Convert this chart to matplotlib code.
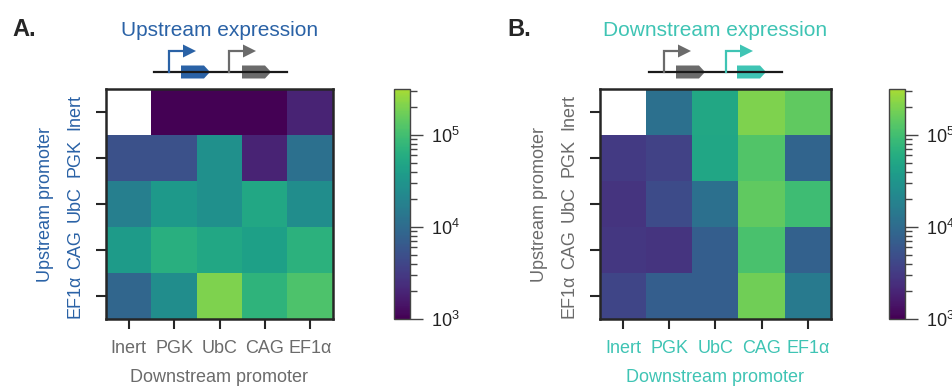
import numpy as np
import matplotlib
matplotlib.use("Agg")
import matplotlib.pyplot as plt
from matplotlib.colors import LogNorm, ListedColormap
from matplotlib.patches import Polygon
from matplotlib.lines import Line2D

plt.rcParams['font.family'] = ['Liberation Sans', 'DejaVu Sans']

promoters = ["Inert", "PGK", "UbC", "CAG", "EF1α"]

# rows: upstream promoter (Inert..EF1α), cols: downstream promoter
upstream_expr = np.array([
    [np.nan, 900, 900, 900, 1940],
    [5200, 5200, 27400, 1940, 11500],
    [17200, 35800, 27400, 52700, 25500],
    [38000, 64600, 52700, 43500, 69000],
    [8900, 25500, 205000, 73700, 117000],
])
downstream_expr = np.array([
    [np.nan, 11500, 52700, 205000, 150000],
    [3080, 3760, 49700, 125000, 8300],
    [2700, 4580, 11500, 150000, 96000],
    [2880, 2700, 7300, 110000, 7800],
    [4000, 7300, 7300, 175000, 15100],
])
titles = ["Upstream expression", "Downstream expression"]
panel_labels = ["A.", "B."]

W, H = 953, 387
fig = plt.figure(figsize=(W / 100, H / 100), dpi=100)

BLUE = "#2a62a6"
GREY = "#6b6b6b"
TEAL = "#3fc4b4"
DARK = "#262626"

norm = LogNorm(vmin=1e3, vmax=10 ** 5.5)
base = plt.get_cmap("viridis")
cmap = ListedColormap(base(np.linspace(0, 0.87, 256)))
cmap.set_bad("white")


def fx(px):
    return px / W


def fy(py):
    return 1 - py / H


panels = [
    dict(data=upstream_expr, hx=106, hw=227, cx=394, ycol=BLUE, xcol=GREY, tcol=BLUE, tx=220, lx=12),
    dict(data=downstream_expr, hx=600, hw=231, cx=889, ycol=GREY, xcol=TEAL, tcol=TEAL, tx=715, lx=507),
]

top, bot = 89, 319
for i, p in enumerate(panels):
    ax = fig.add_axes([fx(p["hx"]), fy(bot), p["hw"] / W, (bot - top) / H])
    im = ax.imshow(np.ma.masked_invalid(p["data"]), cmap=cmap, norm=norm, aspect="auto",
                   interpolation="nearest")
    ax.set_xticks(range(5))
    ax.set_yticks(range(5))
    ax.set_xticklabels(promoters, fontsize=13, color=p["xcol"])
    ax.set_yticklabels(promoters, fontsize=13, color=p["ycol"], rotation=90, va="center")
    ax.set_xlabel("Downstream promoter", fontsize=13, color=p["xcol"], labelpad=9)
    ax.set_ylabel("Upstream promoter", fontsize=13, color=p["ycol"], labelpad=9)
    ax.tick_params(axis="x", length=7, width=1.5, color=DARK, pad=8)
    ax.tick_params(axis="y", length=7, width=1.5, color=DARK, pad=9)
    for s in ax.spines.values():
        s.set_linewidth(1.8)
        s.set_color(DARK)

    cax = fig.add_axes([fx(p["cx"]), fy(bot), 16 / W, (bot - top) / H])
    cb = fig.colorbar(im, cax=cax)
    cb.outline.set_linewidth(1.0)
    cb.outline.set_edgecolor("#444444")
    cax.tick_params(which="major", length=9, width=1.0, color="#444444", labelsize=13, pad=6,
                    labelcolor="#222222")
    cax.tick_params(which="minor", length=5, width=1.0, color="#444444")

    fig.text(fx(p["tx"]), fy(30), titles[i], fontsize=15, color=p["tcol"], ha="center", va="center")
    fig.text(fx(p["lx"]), fy(30), panel_labels[i], fontsize=17, fontweight="bold", color=DARK,
             ha="left", va="center")

# gene diagrams in pixel coordinates
ov = fig.add_axes([0, 0, 1, 1])
ov.set_xlim(0, W)
ov.set_ylim(H, 0)
ov.axis("off")


def promoter(x, color, length=14):
    ov.add_line(Line2D([x, x, x + length], [72, 51, 51], color=color, lw=1.6, solid_joinstyle="miter"))
    ov.add_patch(Polygon([[x + length, 44.5], [x + length + 13, 51], [x + length, 57.5]],
                         closed=True, color=color, lw=0))


def gene(x0, color):
    ov.add_patch(Polygon([[x0, 65.5], [x0 + 23, 65.5], [x0 + 29, 72], [x0 + 23, 78.5], [x0, 78.5]],
                         closed=True, color=color, lw=0))


diagrams = [
    dict(line=(154, 287), prom=[(169, BLUE), (229, GREY)], genes=[(181, BLUE), (242, GREY)]),
    dict(line=(649, 782), prom=[(664, GREY), (726, TEAL)], genes=[(676, GREY), (737, TEAL)]),
]
for d in diagrams:
    ov.add_line(Line2D(list(d["line"]), [72, 72], color="#1a1a1a", lw=1.6))
    for x, c in d["prom"]:
        promoter(x, c)
    for x, c in d["genes"]:
        gene(x, c)

fig.savefig("out.png", dpi=100)
